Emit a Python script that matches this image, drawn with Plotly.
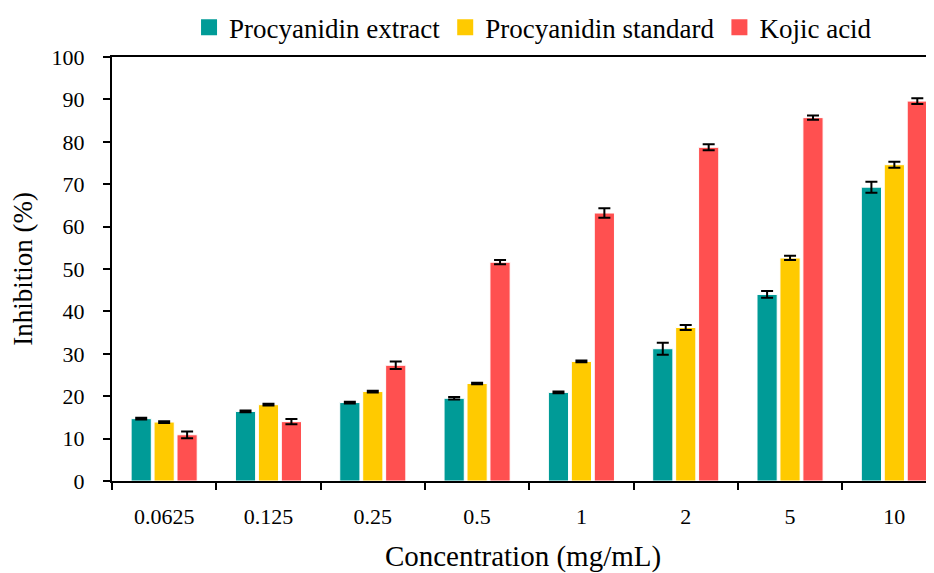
import plotly.graph_objects as go

categories = ["0.0625", "0.125", "0.25", "0.5", "1", "2", "5", "10"]
series_names = ["Procyanidin extract", "Procyanidin standard", "Kojic acid"]
extract_vals = [14.7, 16.4, 18.5, 19.5, 20.9, 31.2, 44.0, 69.3]
extract_err = [0.2, 0.2, 0.2, 0.3, 0.2, 1.4, 0.8, 1.3]
standard_vals = [13.9, 18.0, 21.1, 23.0, 28.2, 36.2, 52.6, 74.6]
standard_err = [0.2, 0.2, 0.2, 0.2, 0.2, 0.6, 0.5, 0.7]
kojic_vals = [10.9, 14.0, 27.3, 51.6, 63.2, 78.7, 85.7, 89.6]
kojic_err = [0.8, 0.6, 0.9, 0.5, 1.1, 0.7, 0.5, 0.7]
colors = ["#009B97", "#FFCA00", "#FF5050"]

FONT = "Liberation Serif"

fig = go.Figure()
for name, vals, errs, col in zip(series_names,
                                 [extract_vals, standard_vals, kojic_vals],
                                 [extract_err, standard_err, kojic_err],
                                 colors):
    fig.add_trace(go.Bar(
        x=categories, y=vals, name=name, showlegend=False,
        marker=dict(color=col, line=dict(color="white", width=1)),
        error_y=dict(type="data", array=errs, color="black", thickness=2, width=6),
    ))
# legend entries with larger square swatches
for name, col in zip(series_names, colors):
    fig.add_trace(go.Scatter(
        x=[None], y=[None], name=name, mode="markers",
        marker=dict(symbol="square", size=16, color=col),
        showlegend=True,
    ))

# the page body adds an 8px offset, so the figure is 8px smaller than the window
fig.update_layout(
    width=926, height=565,
    margin=dict(l=104, r=0, t=49, b=91.5, autoexpand=False),
    paper_bgcolor="white", plot_bgcolor="white",
    barmode="group", bargap=0.34, bargroupgap=0.12,
    font=dict(family=FONT, color="black", size=20),
    legend=dict(orientation="h", x=0.567, xanchor="center", xref="container",
                y=0.965, yanchor="middle", yref="container",
                bgcolor="rgba(0,0,0,0)",
                font=dict(family=FONT, size=27), itemwidth=30,
                itemsizing="trace", traceorder="normal"),
    showlegend=True,
)
fig.update_xaxes(
    range=[-0.5, 7.38], showline=True, linecolor="black", linewidth=2, mirror=True,
    ticks="outside", tickson="boundaries", ticklen=7, tickwidth=2, tickcolor="black",
    showgrid=False, ticklabelstandoff=15, tickfont=dict(size=22), automargin=False,
    title=dict(text="Concentration (mg/mL)", font=dict(size=29), standoff=18),
)
fig.update_yaxes(
    range=[0, 100], dtick=10, showline=True, linecolor="black", linewidth=2,
    ticks="outside", ticklen=7, tickwidth=2, tickcolor="black",
    showgrid=False, zeroline=False, ticklabelstandoff=14, tickfont=dict(size=22),
    automargin=False,
    title=dict(text="Inhibition (%)", font=dict(size=27), standoff=16),
)

fig.write_html("out.html")
